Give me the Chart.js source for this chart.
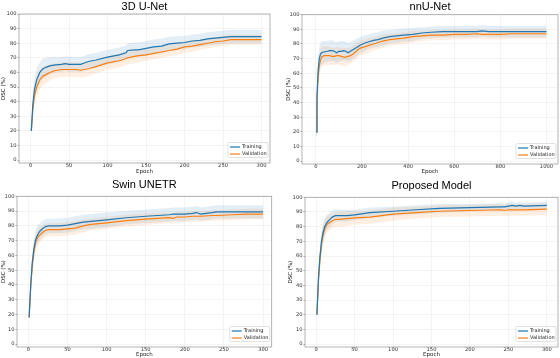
<!DOCTYPE html>
<html>
<head>
<meta charset="utf-8">
<script src="https://cdn.jsdelivr.net/npm/chart.js@4.4.1/dist/chart.umd.min.js"></script>
<style>
  html, body { margin: 0; padding: 0; background: #fff; }
  #page { position: relative; width: 560px; height: 358px; overflow: hidden; background: #fff; }
  .panel { position: absolute; }
  .panel canvas { display: block; }
</style>
</head>
<body>
<div id="page">
  <div class="panel" style="left:0;top:0;"><canvas id="unetChart" width="280" height="178"></canvas></div>
  <div class="panel" style="left:280px;top:0;"><canvas id="nnunetChart" width="280" height="178"></canvas></div>
  <div class="panel" style="left:0;top:178px;"><canvas id="swinChart" width="280" height="180"></canvas></div>
  <div class="panel" style="left:280px;top:178px;"><canvas id="proposedChart" width="280" height="180"></canvas></div>
</div>
<script>
// Tick labels
const yTicks = [0, 10, 20, 30, 40, 50, 60, 70, 80, 90, 100];
const epochTicks300 = [0, 50, 100, 150, 200, 250, 300];
const epochTicks1000 = [0, 200, 400, 600, 800, 1000];
const seriesNames = ['Training', 'Validation'];

// 3D U-Net
const unetEpochs = [1, 3, 5, 8, 12, 16, 20, 25, 30, 40, 45, 50, 60, 65, 70, 75, 85, 100, 115, 124, 126, 135, 140, 150, 160, 170, 180, 190, 200, 210, 220, 230, 240, 250, 260, 280, 300];
const unetTrain = [20, 38, 48, 55, 60, 62.5, 63.5, 64.5, 65, 65.5, 66, 65.5, 65.5, 65.5, 66.5, 67.5, 68.5, 70.5, 72, 73.5, 75, 75.5, 75.5, 76.5, 77.5, 78, 79.5, 80, 80.5, 81.5, 82, 83, 83.5, 84, 84.5, 84.5, 84.5];
const unetTrainStd = [3, 7, 8, 8, 7, 7, 6.5, 6, 5.5, 5, 5, 5, 5, 5, 5, 5, 5, 5, 5, 5, 5, 5, 5, 5, 5, 5, 5, 5, 4.5, 4.5, 4.5, 4.5, 4.5, 4.5, 4.5, 4.5, 4.5];
const unetVal = [20, 35, 44, 50, 55, 57.5, 58.5, 60, 61, 62, 62, 62, 62, 61.5, 62, 62.5, 64, 66.5, 68, 69.5, 70, 71, 71.5, 72, 73, 74, 75, 76, 77.5, 78, 79, 80, 81, 81.5, 82.5, 82.5, 82.5];
const unetValStd = [3, 6, 7, 7, 6.5, 6, 6, 5.5, 5, 5, 5, 5, 5, 5, 5, 5, 4.5, 4.5, 4.5, 4.5, 4.5, 4.5, 4.5, 4, 4, 4, 4, 4, 4, 4, 3.5, 3.5, 3.5, 3.5, 3.5, 3.5, 3.5];

// nnU-Net
const nnunetEpochs = [1, 5, 10, 15, 20, 25, 35, 50, 60, 70, 80, 90, 100, 110, 120, 130, 140, 150, 160, 175, 190, 210, 230, 250, 270, 290, 320, 350, 380, 420, 460, 500, 550, 600, 650, 700, 720, 750, 800, 850, 900, 1000];
const nnunetTrain = [20, 45, 62, 70, 73, 74, 74.5, 75, 75.5, 75.5, 75, 74, 75, 75, 75.5, 75, 74, 75, 76, 77.5, 79, 80.5, 81.5, 82.5, 83, 84, 85, 85.5, 86, 86.5, 87.5, 88, 88.5, 88.5, 88.5, 88.5, 89, 88.5, 88.5, 88.5, 88.5, 88.5];
const nnunetTrainStd = [3, 7, 8, 8, 8, 8, 7.5, 7, 7, 7, 7, 7, 7, 7, 6.5, 6.5, 6.5, 6.5, 6, 6, 5.5, 5.5, 5, 5, 5, 5, 4.5, 4.5, 4.5, 4.5, 4, 4, 4, 4, 4, 4, 4, 4, 4, 4, 4, 4];
const nnunetVal = [20, 40, 58, 65, 69, 71, 72, 72, 72, 71.5, 71.5, 72, 72, 71.5, 71, 71, 71.5, 72, 73, 75, 77, 78, 79, 80, 81, 82, 83, 83.5, 84, 85, 85.5, 86, 86, 86.5, 86.5, 87, 86.5, 86.5, 86.5, 87, 87, 87];
const nnunetValStd = [3, 6, 7, 7, 7, 7, 6.5, 6.5, 6, 6, 6, 6, 6, 6, 6, 6, 6, 5.5, 5.5, 5.5, 5, 5, 5, 4.5, 4.5, 4.5, 4, 4, 4, 4, 3.5, 3.5, 3.5, 3.5, 3.5, 3.5, 3.5, 3.5, 3.5, 3.5, 3.5, 3.5];

// Swin UNETR
const swinEpochs = [1, 3, 5, 7, 9, 11, 13, 15, 18, 22, 26, 30, 40, 50, 60, 70, 80, 100, 125, 150, 180, 185, 190, 200, 210, 215, 220, 235, 240, 260, 280, 300];
const swinTrain = [18, 40, 55, 64, 70, 73, 75, 76.5, 78, 79.5, 80, 80, 80, 80.5, 81.5, 82.5, 83, 84, 85.5, 86.5, 87.5, 88, 88, 88, 88.5, 89, 88, 89, 89.5, 89.5, 89.5, 89.5];
const swinTrainStd = [2, 5, 7, 7, 6.5, 6, 6, 5.5, 5.5, 5, 5, 5, 5, 5, 5, 5, 5, 5, 4.5, 4.5, 4.5, 4.5, 4.5, 4.5, 4.5, 4.5, 4.5, 4.5, 4.5, 4.5, 4.5, 4.5];
const swinVal = [18, 38, 53, 62, 68, 71, 73, 74, 75.5, 77, 77.5, 77.5, 77.5, 78, 78.5, 80, 81, 82, 83.5, 84.5, 85.5, 85, 86, 86, 86.5, 86.5, 86.5, 87, 87, 87.5, 88, 88];
const swinValStd = [2, 5, 6.5, 6.5, 6, 5.5, 5.5, 5, 5, 4.5, 4.5, 4.5, 4.5, 4.5, 4.5, 4.5, 4, 4, 4, 4, 3.5, 3.5, 3.5, 3.5, 3.5, 3.5, 3.5, 3.5, 3.5, 3.5, 3.5, 3.5];

// Proposed Model
const proposedEpochs = [1, 3, 5, 7, 9, 11, 13, 15, 18, 21, 25, 30, 40, 50, 70, 100, 130, 160, 200, 240, 245, 250, 255, 260, 265, 270, 300];
const proposedTrain = [20, 45, 60, 70, 76, 80, 82, 83.5, 85, 86.5, 87.5, 87.5, 87.5, 88, 89.5, 90.5, 91.5, 92.5, 93, 93.5, 93.5, 94, 94.5, 94, 94.5, 94, 94.5];
const proposedTrainStd = [2, 6, 7, 7, 6.5, 6, 5.5, 5, 5, 4.5, 4.5, 4, 4, 3.5, 3.5, 3, 3, 3, 2.5, 2.5, 2.5, 2.5, 2.5, 2.5, 2.5, 2.5, 2.5];
const proposedVal = [20, 43, 58, 68, 74, 78, 80.5, 82, 83, 84, 85, 85, 85.5, 86, 86.5, 88.5, 89.5, 90.5, 91, 91.5, 91, 91.5, 91.5, 91.5, 91.5, 91.5, 92];
const proposedValStd = [2, 6, 7, 7, 6.5, 6, 6, 5.5, 5.5, 5, 5, 5, 5, 4.5, 4.5, 4.5, 4, 4, 4, 4, 4, 4, 4, 4, 4, 4, 4];

const blue = '#1f77b4';
const orange = '#ff7f0e';
const blueBand = 'rgba(31, 119, 180, 0.12)';
const orangeBand = 'rgba(255, 127, 14, 0.12)';
const tickFont = { family: 'DejaVu Sans', size: 5.2 };
const labelFont = { family: 'DejaVu Sans', size: 5.5 };

// Frame around the plot area and a small legend in the lower right corner
const frameAndLegend = {
  id: 'frameAndLegend',
  afterDatasetsDraw(chart) {
    const { ctx, chartArea } = chart;
    ctx.save();
    ctx.strokeStyle = '#a0a0a0';
    ctx.lineWidth = 0.8;
    ctx.strokeRect(chartArea.left, chartArea.top, chartArea.right - chartArea.left, chartArea.bottom - chartArea.top);

    const items = chart.data.datasets.filter((ds) => !ds.isBand);
    const w = 40;
    const rowH = 7;
    const h = items.length * rowH + 1;
    const right = chartArea.right - 2;
    const bottom = chartArea.bottom - 5.5;
    const left = right - w;
    const top = bottom - h;
    ctx.fillStyle = 'rgba(255, 255, 255, 0.85)';
    ctx.strokeStyle = '#cccccc';
    ctx.lineWidth = 0.6;
    ctx.beginPath();
    ctx.roundRect(left, top, w, h, 1.5);
    ctx.fill();
    ctx.stroke();

    ctx.font = '5px "DejaVu Sans"';
    ctx.textBaseline = 'middle';
    items.forEach((ds, i) => {
      const y = Math.round(top + 4 + i * rowH);
      ctx.strokeStyle = ds.borderColor;
      ctx.lineWidth = 1.2;
      ctx.beginPath();
      ctx.moveTo(left + 2, y);
      ctx.lineTo(left + 12, y);
      ctx.stroke();
      ctx.fillStyle = '#222';
      ctx.fillText(ds.label, left + 14, y);
    });
    ctx.restore();
  },
};

function points(epochs, values, offsets, sign) {
  return epochs.map((e, i) => ({ x: e, y: values[i] + sign * (offsets ? offsets[i] : 0) }));
}

// Build one learning-curve panel
function buildChart(p) {
  const band = { isBand: true, borderColor: 'transparent', borderWidth: 0, pointRadius: 0 };
  const datasets = [
    { label: seriesNames[0], data: points(p.epochs, p.train, null, 0), borderColor: blue, backgroundColor: blue, borderWidth: 1.2, pointRadius: 0, fill: false },
    { label: seriesNames[1], data: points(p.epochs, p.val, null, 0), borderColor: orange, backgroundColor: orange, borderWidth: 1.2, pointRadius: 0, fill: false },
    { ...band, data: points(p.epochs, p.train, p.trainStd, 1), fill: false },
    { ...band, data: points(p.epochs, p.train, p.trainStd, -1), fill: 2, backgroundColor: blueBand },
    { ...band, data: points(p.epochs, p.val, p.valStd, 1), fill: false },
    { ...band, data: points(p.epochs, p.val, p.valStd, -1), fill: 4, backgroundColor: orangeBand },
  ];

  return new Chart(document.getElementById(p.id), {
    type: 'line',
    data: { datasets },
    options: {
      responsive: false,
      animation: false,
      layout: { padding: { left: 0, right: p.padRight, top: 0, bottom: 0 } },
      plugins: {
        legend: { display: false },
        tooltip: { enabled: false },
        title: {
          display: true,
          text: p.title,
          fullSize: false,
          color: '#000',
          font: { family: 'Liberation Sans', size: 11, weight: 'normal' },
          padding: p.titlePad,
        },
      },
      scales: {
        x: {
          type: 'linear',
          min: p.xMin,
          max: p.xMax,
          afterBuildTicks: (scale) => { scale.ticks = p.xTicks.map((v) => ({ value: v })); },
          afterFit: (scale) => { scale.height = p.xAxisHeight; },
          ticks: { font: tickFont, color: '#333', padding: -1.5, maxRotation: 0, callback: (v) => String(v) },
          grid: { color: '#ececec', lineWidth: 0.6, tickLength: 1.5, tickColor: '#666', tickWidth: 0.6 },
          border: { display: false },
          title: { display: true, text: 'Epoch', font: labelFont, color: '#222', padding: { top: 0, bottom: p.xTitlePad } },
        },
        y: {
          min: -2,
          max: 100,
          afterBuildTicks: (scale) => { scale.ticks = yTicks.map((v) => ({ value: v })); },
          afterFit: (scale) => { scale.width = p.yAxisWidth; },
          ticks: { font: tickFont, color: '#333', padding: 1 },
          grid: { color: '#ececec', lineWidth: 0.6, tickLength: 1.5, tickColor: '#666', tickWidth: 0.6 },
          border: { display: false },
          title: { display: true, text: 'DSC (%)', font: labelFont, color: '#222', padding: { top: p.yTitlePad, bottom: 0 } },
        },
      },
    },
    plugins: [frameAndLegend],
  });
}

const panels = [
  { id: 'unetChart', title: '3D U-Net', epochs: unetEpochs, train: unetTrain, trainStd: unetTrainStd, val: unetVal, valStd: unetValStd,
    xTicks: epochTicks300, xMin: -15, xMax: 311, yAxisWidth: 19, yTitlePad: 0, padRight: 10, titlePad: { top: 0, bottom: 0.8 }, xAxisHeight: 15, xTitlePad: 3 },
  { id: 'nnunetChart', title: 'nnU-Net', epochs: nnunetEpochs, train: nnunetTrain, trainStd: nnunetTrainStd, val: nnunetVal, valStd: nnunetValStd,
    xTicks: epochTicks1000, xMin: -60, xMax: 1050, yAxisWidth: 22, yTitlePad: 5.4, padRight: 2, titlePad: { top: 0, bottom: 1.5 }, xAxisHeight: 14, xTitlePad: 3 },
  { id: 'swinChart', title: 'Swin UNETR', epochs: swinEpochs, train: swinTrain, trainStd: swinTrainStd, val: swinVal, valStd: swinValStd,
    xTicks: epochTicks300, xMin: -14.5, xMax: 311, yAxisWidth: 17, yTitlePad: 0, padRight: 8.3, titlePad: { top: 0.5, bottom: 4.6 }, xAxisHeight: 11, xTitlePad: 0 },
  { id: 'proposedChart', title: 'Proposed Model', epochs: proposedEpochs, train: proposedTrain, trainStd: proposedTrainStd, val: proposedVal, valStd: proposedValStd,
    xTicks: epochTicks300, xMin: -14.5, xMax: 314.5, yAxisWidth: 25, yTitlePad: 7, padRight: 2, titlePad: { top: 1, bottom: 5.1 }, xAxisHeight: 11, xTitlePad: 0 },
];

panels.forEach(buildChart);
</script>
</body>
</html>
